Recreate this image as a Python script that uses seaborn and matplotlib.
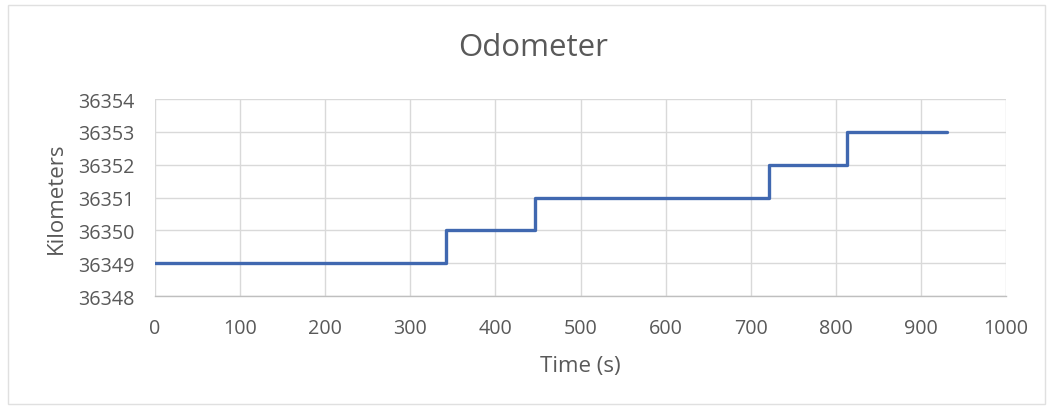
import matplotlib
matplotlib.use("Agg")
import matplotlib.pyplot as plt
import seaborn as sns
import pandas as pd
from matplotlib.patches import Rectangle

time_s = [0, 342, 447, 722, 813, 931]
odometer_km = [36349, 36350, 36351, 36352, 36353, 36353]
x_ticks = [0, 100, 200, 300, 400, 500, 600, 700, 800, 900, 1000]
y_ticks = [36348, 36349, 36350, 36351, 36352, 36353, 36354]

sns.set_theme(style="white")
plt.rcParams['font.family'] = ['Open Sans', 'DejaVu Sans']

df = pd.DataFrame({"Time (s)": time_s, "Kilometers": odometer_km})

fig = plt.figure(figsize=(10.52, 4.10), dpi=100)
ax = fig.add_axes([155/1052, 1-297/410, (1006-155)/1052, (297-100)/410])

sns.lineplot(data=df, x="Time (s)", y="Kilometers", ax=ax, drawstyle="steps-post",
             color="#4068b0", linewidth=2.4, zorder=3)

ax.set_xlim(0, 1000)
ax.set_ylim(36348, 36354)
ax.set_xticks(x_ticks)
ax.set_yticks(y_ticks)
ax.set_xticklabels([str(v) for v in x_ticks])
ax.set_yticklabels([str(v) for v in y_ticks])
ax.grid(True, color="#d9d9d9", linewidth=1.0)
ax.set_axisbelow(True)
for s in ["top", "right", "left"]:
    ax.spines[s].set_visible(False)
ax.spines["bottom"].set_color("#bfbfbf")
ax.spines["bottom"].set_linewidth(1.0)
ax.tick_params(axis="both", length=0, labelsize=14.2, colors="#595959")
ax.tick_params(axis="y", pad=14.5)
ax.tick_params(axis="x", pad=16)

ax.set_xlabel("Time (s)", fontsize=16, color="#595959", labelpad=12)
ax.set_ylabel("Kilometers", fontsize=16, color="#595959", labelpad=8)
fig.text(0.507, 1-48/410, "Odometer", ha="center", va="center", fontsize=22.5, color="#595959")

fig.patches.append(Rectangle((8/1052, 1-405/410), 1037/1052, 399/410, transform=fig.transFigure,
                             fill=False, edgecolor="#e0e0e0", linewidth=1.0))

fig.savefig("out.png", dpi=100)
